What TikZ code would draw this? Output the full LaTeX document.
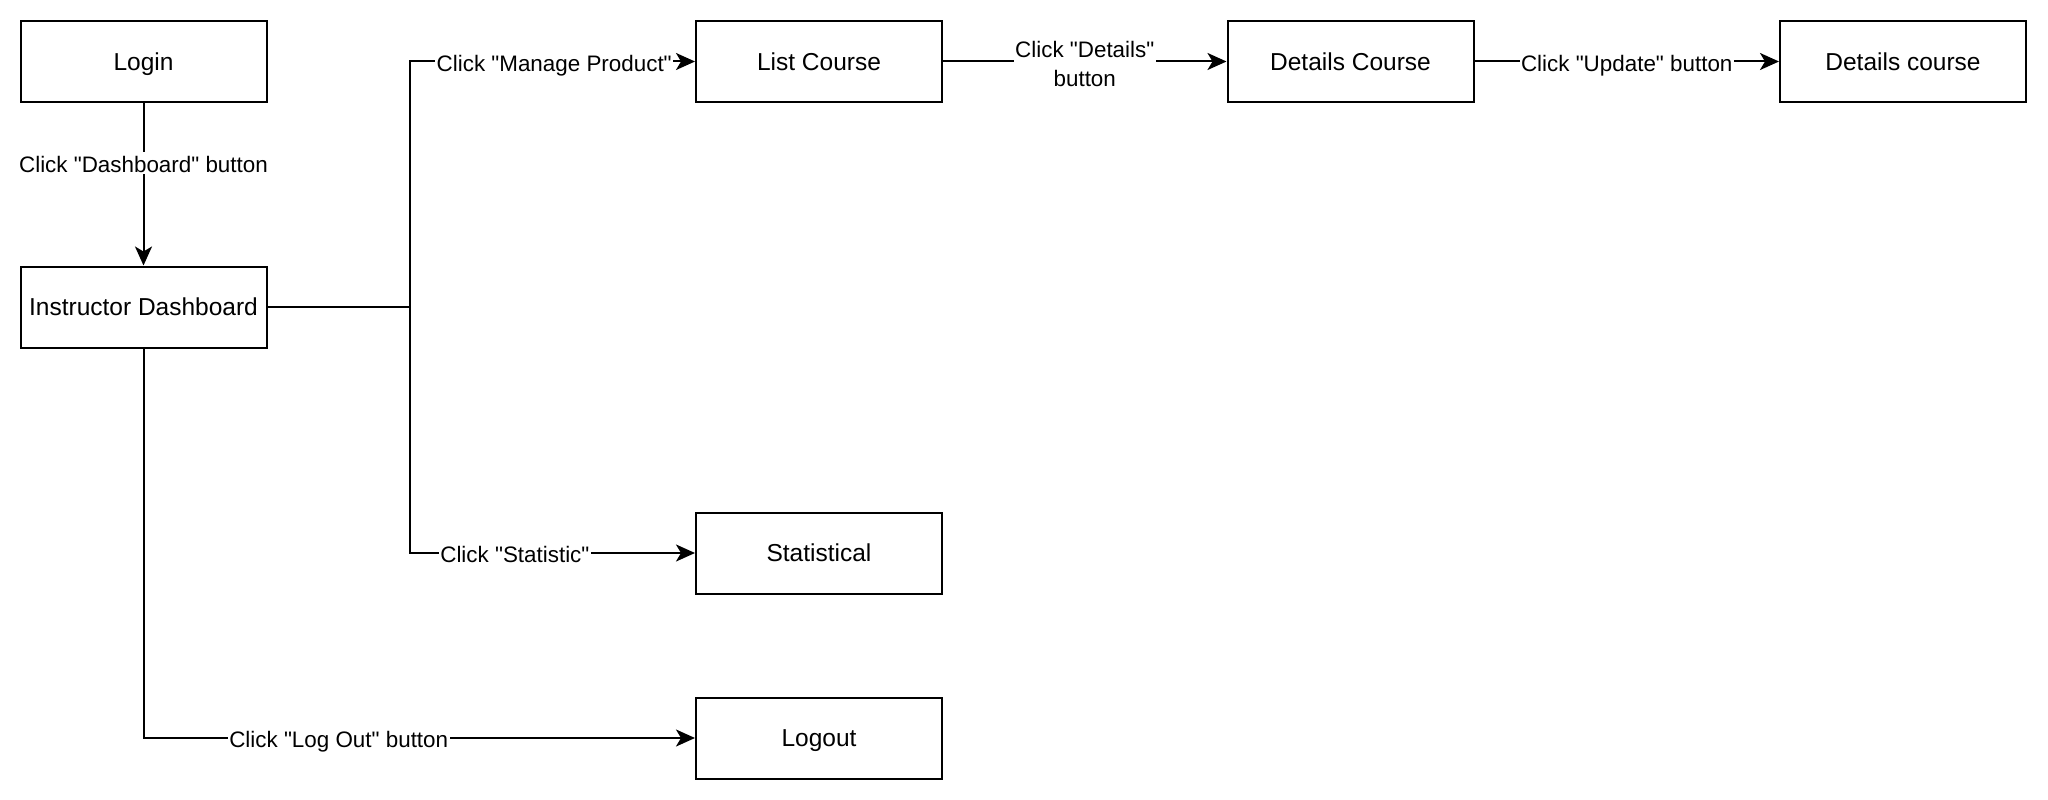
\documentclass[tikz,border=0pt]{standalone}
\usepackage{fontspec}
\setmainfont{Liberation Sans}[Ligatures=TeXOff]
\usetikzlibrary{arrows.meta}
\begin{document}
\begin{tikzpicture}[x=1pt,y=-1pt,
  box/.style={draw, line width=2pt, minimum width=246pt, minimum height=81pt, inner sep=0pt, text height=17.6pt, text depth=0pt, font=\fontsize{24.5}{29}\selectfont},
  conn/.style={line width=2pt, -{Stealth[length=19pt,width=17pt,inset=5pt]}},
  plain/.style={line width=2pt},
  lbl/.style={fill=white, inner sep=1.5pt, font=\fontsize{22.4}{29}\selectfont, align=center},
  lbl1/.style={lbl, text height=19pt, text depth=0pt}]
\useasboundingbox[fill=white] (0,0) rectangle (2048,800);
\node[box] (login) at (143.5,61.5) {Login};
\node[box] (dash) at (143.5,307) {Instructor Dashboard};
\node[box] (list) at (819,61.5) {List Course};
\node[box] (det) at (1350.5,61.5) {Details Course};
\node[box] (det2) at (1903,61.5) {Details course};
\node[box] (stat) at (819,553) {Statistical};
\node[box] (logout) at (819,738) {Logout};
\coordinate (br) at (410,307);
\draw[conn] (login) -- node[lbl1, pos=0.368] {Click "Dashboard" button} (dash);
\draw[plain] (dash.east) -- (br);
\draw[conn] (br) |- node[lbl1, pos=0.753] {Click "Manage Product"} (list.west);
\draw[conn] (br) |- node[lbl1, pos=0.684] {Click "Statistic"} (stat.west);
\draw[conn] (dash.south) |- node[lbl1, pos=0.677] {Click "Log Out" button} (logout.west);
\draw[conn] (list) -- node[lbl, yshift=-2pt] {Click "Details"\\button} (det);
\draw[conn] (det) -- node[lbl1] {Click "Update" button} (det2);
\end{tikzpicture}
\end{document}
